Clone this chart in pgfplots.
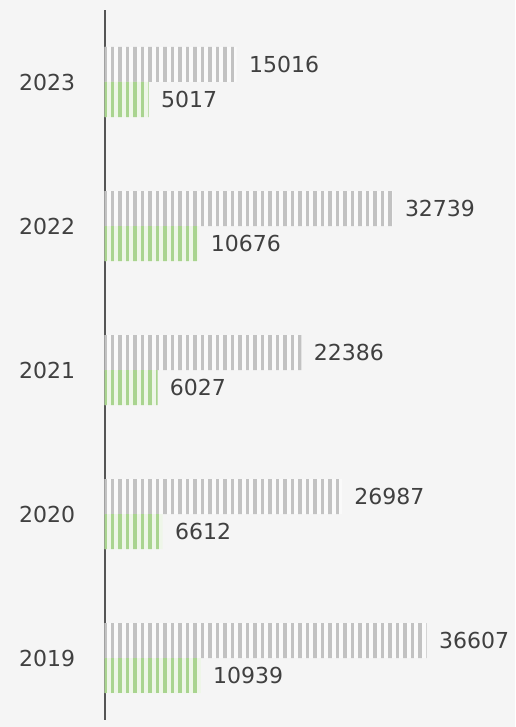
\documentclass[border=0pt]{standalone}
\usepackage{fontspec}
\setmainfont{DejaVu Sans}
\usepackage{pgfplots}
\pgfplotsset{compat=1.18}
\usetikzlibrary{patterns.meta}
\definecolor{bg}{HTML}{F5F5F5}
\definecolor{txt}{HTML}{404040}
\definecolor{axisc}{HTML}{555555}
\definecolor{grayfill}{HTML}{FAFAFA}
\definecolor{graybar}{HTML}{C2C2C2}
\definecolor{greenfill}{HTML}{EEF6E8}
\definecolor{greenbar}{HTML}{A9D48F}

\begin{document}
\begin{tikzpicture}
\fill[bg] (0,0) rectangle (257.5pt,363.5pt);
\begin{axis}[
    at={(52.25pt,3.5pt)}, anchor=south west,
    scale only axis, width=198pt, height=355pt,
    xbar, bar width=17.5pt,
    xmin=0, xmax=45000, ymin=-0.43, ymax=4.5,
    axis x line=none, axis y line=left,
    axis line style={-, draw=axisc, line width=1pt},
    ytick={0,...,4}, yticklabels={2019,2020,2021,2022,2023},
    major tick length=0pt,
    yticklabel style={font=\fontsize{11}{13}\selectfont, text=txt, inner sep=0pt, xshift=-14.5pt},
    nodes near coords, nodes near coords align={horizontal},
    /pgf/number format/.cd, 1000 sep={}, fixed, precision=0, assume math mode=true,
    /pgfplots/.cd,
    every node near coord/.append style={font=\fontsize{11}{13}\selectfont, text=txt, inner sep=0pt, anchor=west, xshift=6pt},
    clip=false,
]
% total
\addplot[draw=none, fill=grayfill, postaction={pattern={Lines[angle=90,distance=3.75pt,line width=1.7pt]}, pattern color=graybar}, bar shift=8.75pt]
    coordinates {(15016,4) (32739,3) (22386,2) (26987,1) (36607,0)};
% part
\addplot[draw=none, fill=greenfill, postaction={pattern={Lines[angle=90,distance=3.75pt,line width=1.7pt]}, pattern color=greenbar}, bar shift=-8.75pt]
    coordinates {(5017,4) (10676,3) (6027,2) (6612,1) (10939,0)};
\end{axis}
\end{tikzpicture}
\end{document}
